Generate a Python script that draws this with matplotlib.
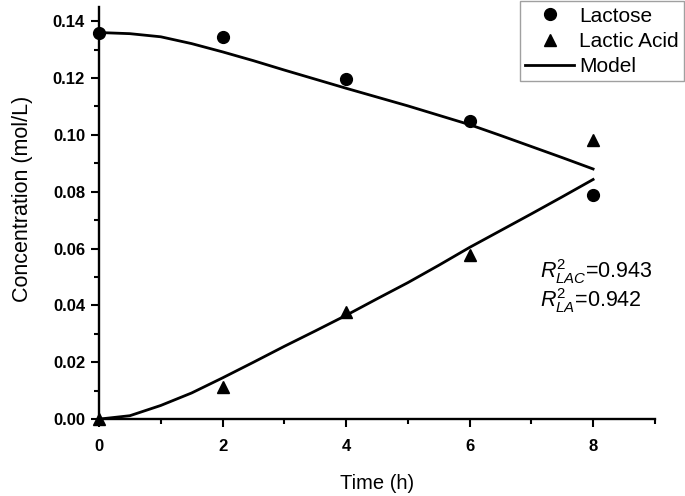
import matplotlib
matplotlib.use('Agg')
import matplotlib.pyplot as plt
from matplotlib.ticker import MultipleLocator

plt.rcParams['font.family'] = ['Liberation Sans', 'DejaVu Sans']
plt.rcParams['mathtext.fontset'] = 'custom'
plt.rcParams['mathtext.rm'] = 'Liberation Sans'
plt.rcParams['mathtext.it'] = 'Liberation Sans:italic'

# measured points
time_h = [0, 2, 4, 6, 8]
lactose = [0.1360, 0.1344, 0.1195, 0.1050, 0.0789]
lactic_acid = [0.0000, 0.0112, 0.0376, 0.0578, 0.0981]

# model curves, every 0.5 h
model_time = [0, 0.5, 1, 1.5, 2, 2.5, 3, 3.5, 4, 4.5, 5, 5.5, 6, 6.5, 7, 7.5, 8]
model_lactose = [0.1360, 0.1356, 0.1345, 0.1321, 0.1292, 0.1261, 0.1228, 0.1196,
                 0.1164, 0.1133, 0.1102, 0.1069, 0.1036, 0.0998, 0.0959, 0.0920, 0.0880]
model_lactic = [0.0000, 0.0012, 0.0048, 0.0092, 0.0145, 0.0200, 0.0256, 0.0310,
                0.0365, 0.0423, 0.0480, 0.0541, 0.0604, 0.0663, 0.0722, 0.0782, 0.0843]

r2_lines = [r'$\mathit{R}^{2}_{\mathit{LAC}}$=0.943', r'$\mathit{R}^{2}_{\mathit{LA}}$=0.942']

fig = plt.figure(figsize=(6.85, 4.96), dpi=100)
ax = fig.add_axes([0.1445, 0.155, 0.8115, 0.831])

ax.plot(time_h, lactose, 'o', color='black', markersize=8.5, clip_on=False, zorder=5, label='Lactose')
ax.plot(time_h, lactic_acid, '^', color='black', markersize=9, clip_on=False, zorder=5, label='Lactic Acid')
ax.plot(model_time, model_lactose, '-', color='black', linewidth=2, clip_on=False, label='Model')
ax.plot(model_time, model_lactic, '-', color='black', linewidth=2, clip_on=False)

ax.set_xlim(0, 9)
ax.set_ylim(0, 0.145)
ax.xaxis.set_major_locator(MultipleLocator(2))
ax.xaxis.set_minor_locator(MultipleLocator(1))
ax.yaxis.set_major_locator(MultipleLocator(0.02))
ax.yaxis.set_minor_locator(MultipleLocator(0.01))
ax.set_xticks([0, 2, 4, 6, 8])
ax.yaxis.set_major_formatter(plt.FormatStrFormatter('%.2f'))

for s in ['top', 'right']:
    ax.spines[s].set_visible(False)
for s in ['left', 'bottom']:
    ax.spines[s].set_linewidth(1.7)

ax.tick_params(which='major', direction='out', length=6, width=1.5, labelsize=12)
ax.tick_params(which='minor', direction='out', length=3.5, width=1.5)
ax.tick_params(axis='x', which='major', pad=8)
ax.tick_params(axis='y', which='major', pad=4)
for lab in ax.get_xticklabels() + ax.get_yticklabels():
    lab.set_fontweight('bold')

ax.set_xlabel('Time (h)', fontsize=14.5, labelpad=15)
ax.set_ylabel('Concentration (mol/L)', fontsize=15.5)
ax.yaxis.set_label_coords(-0.119, 0.535)

leg = ax.legend(loc='upper right', bbox_to_anchor=(0.999, 0.997), bbox_transform=fig.transFigure,
                fontsize=15, frameon=True, fancybox=False, edgecolor='#888888',
                borderaxespad=0, borderpad=0.25, handlelength=2.35, handletextpad=0.25,
                labelspacing=0.3)
leg.get_frame().set_linewidth(1.0)

fig.text(0.789, 0.4395, r2_lines[0], fontsize=15.5, va='baseline')
fig.text(0.789, 0.381, r2_lines[1], fontsize=15.5, va='baseline')

fig.savefig('out.png', dpi=100)
